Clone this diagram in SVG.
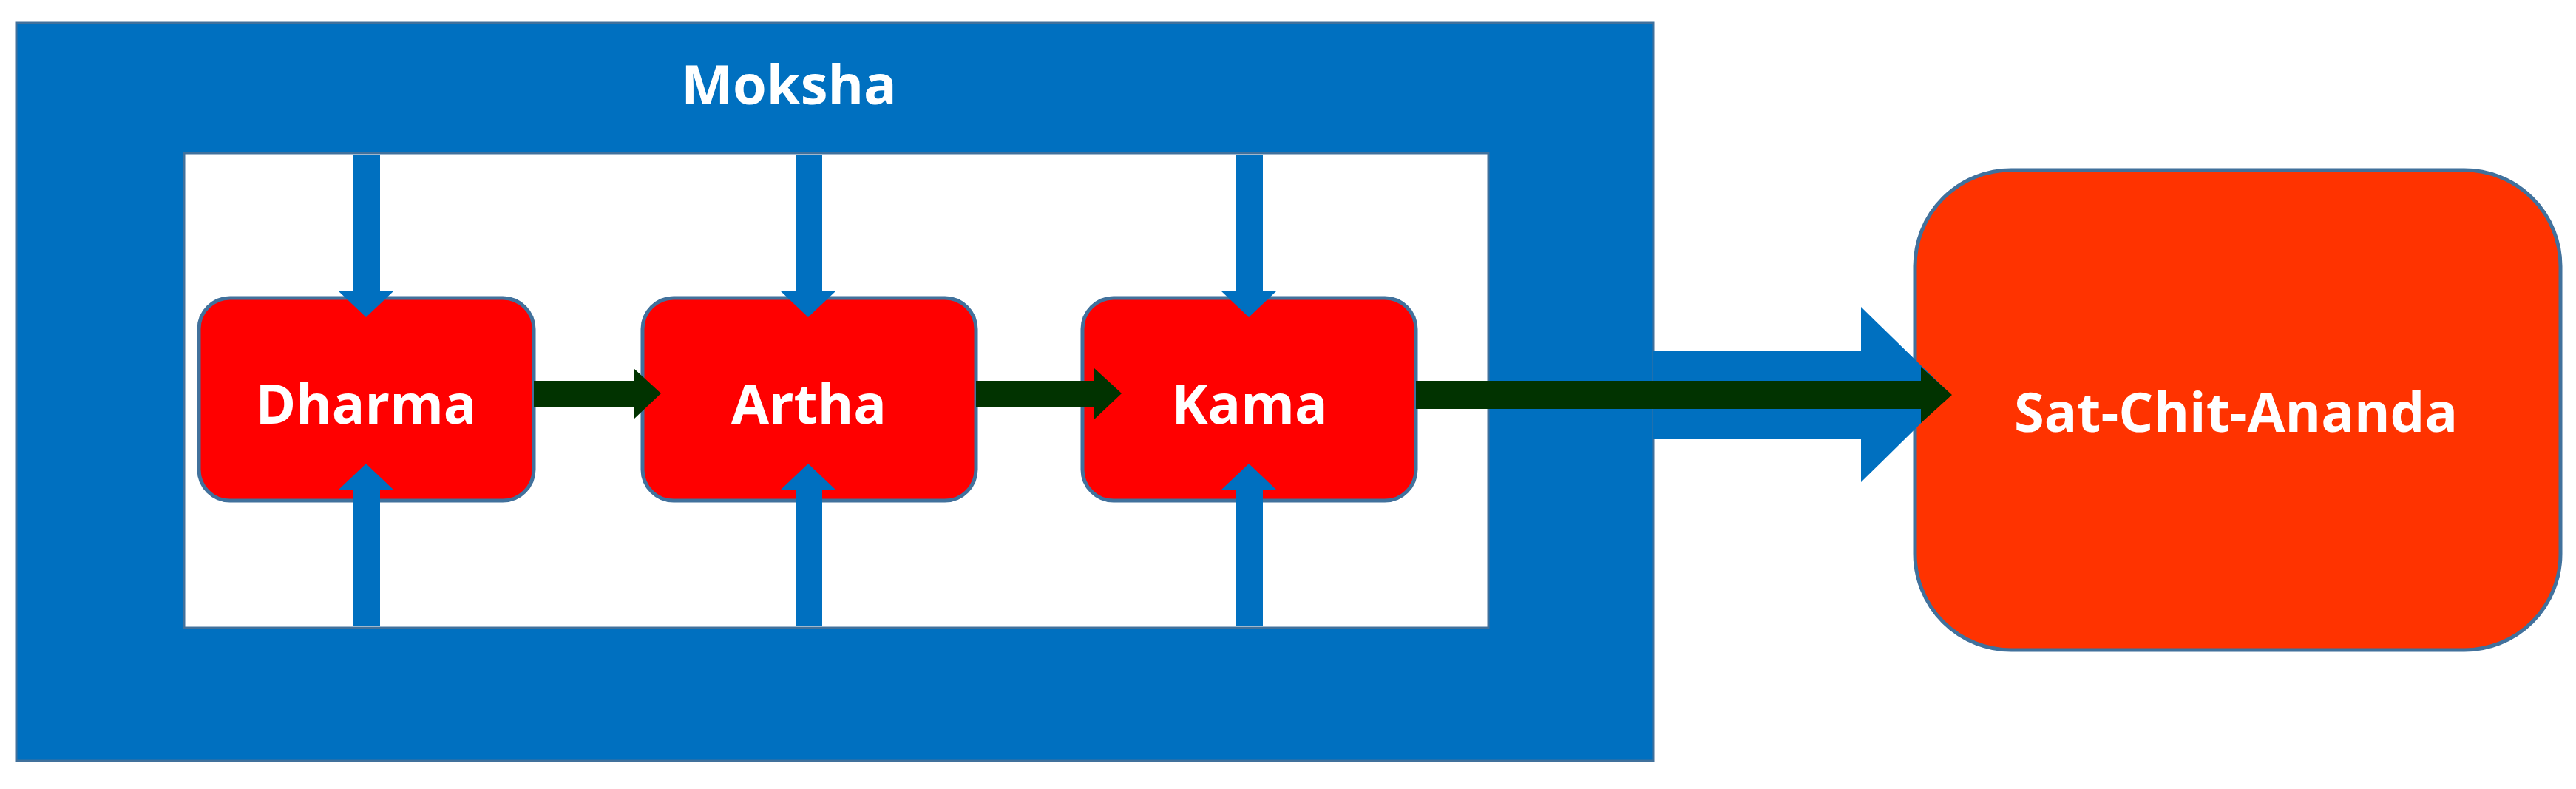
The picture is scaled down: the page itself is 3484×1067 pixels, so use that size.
<svg xmlns="http://www.w3.org/2000/svg" width="3484" height="1067" viewBox="0 0 3484 1067">
<style>
.t{font-family:"Open Sans","Liberation Sans",sans-serif;font-weight:bold;fill:#fff;text-anchor:middle;font-size:74px}
.box{fill:#ff0000;stroke:#41719c;stroke-width:5}
.blue{fill:#0070c0}
.green{fill:#013300}
</style>
<rect width="3484" height="1067" fill="#fff"/>
<g id="moksha">
<rect x="22" y="31" width="2214" height="998" fill="#0070c0" stroke="#41719c" stroke-width="3"/>
<rect x="249" y="207" width="1764" height="642" fill="#fff" stroke="#41719c" stroke-width="3"/>
<text class="t" x="1067" y="141">Moksha</text>
</g>
<g id="dharma"><rect class="box" x="269" y="403" width="453" height="274" rx="42"/><text class="t" x="495" y="573">Dharma</text></g>
<g id="artha"><rect class="box" x="869" y="403" width="451" height="274" rx="42"/><text class="t" x="1094" y="573">Artha</text></g>
<g id="kama"><rect class="box" x="1464" y="403" width="451" height="274" rx="42"/><text class="t" x="1690" y="573">Kama</text></g>
<g id="sat"><rect x="2590" y="230" width="873" height="649" rx="130" fill="#ff3300" stroke="#41719c" stroke-width="5"/><text class="t" x="3024" y="584">Sat-Chit-Ananda</text></g>
<g id="connectors">
<path class="blue" d="M2236 474H2517V415L2638 533L2517 652V594H2236Z"/>
<g class="blue">
<path d="M478 209V393H457L495 429L533 393H514V209Z"/>
<path d="M478 847V663H457L495 627L533 663H514V847Z"/>
<path d="M1076 209V393H1055L1093 429L1131 393H1112V209Z"/>
<path d="M1076 847V663H1055L1093 627L1131 663H1112V847Z"/>
<path d="M1672 209V393H1651L1689 429L1727 393H1708V209Z"/>
<path d="M1672 847V663H1651L1689 627L1727 663H1708V847Z"/>
</g>
<g class="green">
<path d="M722 515H857V498L894 532L857 567V550H722Z"/>
<path d="M1320 515H1480V498L1517 532L1480 567V550H1320Z"/>
<path d="M1915 515H2598V496L2640 534L2598 572V553H1915Z"/>
</g>
</g>
</svg>
